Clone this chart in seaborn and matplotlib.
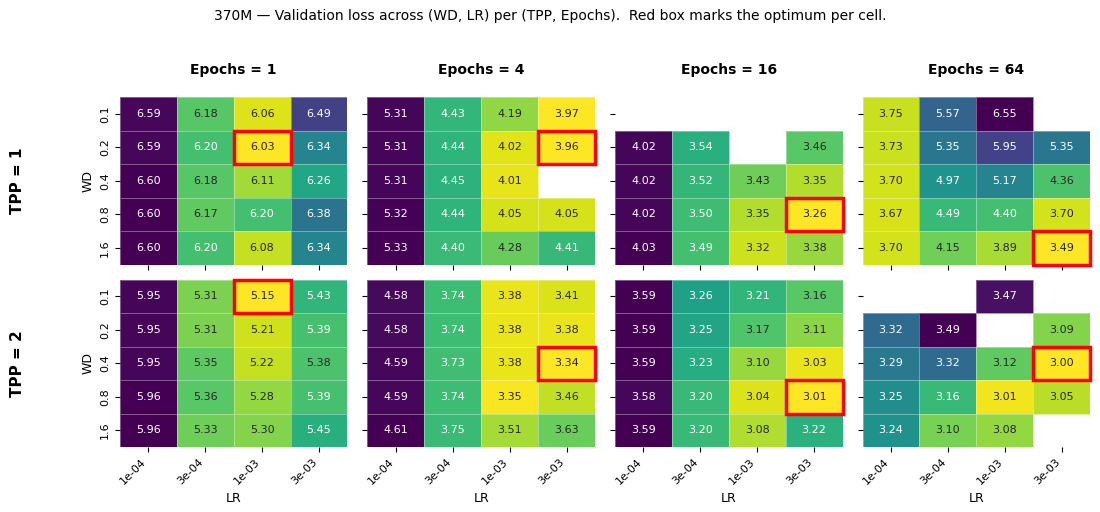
import numpy as np
import pandas as pd
import matplotlib
matplotlib.use("Agg")
import matplotlib.pyplot as plt
import seaborn as sns
from matplotlib.patches import Rectangle

nan = np.nan
wd_labels = ["0.1", "0.2", "0.4", "0.8", "1.6"]
lr_labels = ["1e-04", "3e-04", "1e-03", "3e-03"]
epochs = [1, 4, 16, 64]
tpps = [1, 2]

tpp1_e1 = [[6.59, 6.18, 6.06, 6.49],
           [6.59, 6.20, 6.03, 6.34],
           [6.60, 6.18, 6.11, 6.26],
           [6.60, 6.17, 6.20, 6.38],
           [6.60, 6.20, 6.08, 6.34]]
tpp1_e4 = [[5.31, 4.43, 4.19, 3.97],
           [5.31, 4.44, 4.02, 3.96],
           [5.31, 4.45, 4.01, nan],
           [5.32, 4.44, 4.05, 4.05],
           [5.33, 4.40, 4.28, 4.41]]
tpp1_e16 = [[nan, nan, nan, nan],
            [4.02, 3.54, nan, 3.46],
            [4.02, 3.52, 3.43, 3.35],
            [4.02, 3.50, 3.35, 3.26],
            [4.03, 3.49, 3.32, 3.38]]
tpp1_e64 = [[3.75, 5.57, 6.55, nan],
            [3.73, 5.35, 5.95, 5.35],
            [3.70, 4.97, 5.17, 4.36],
            [3.67, 4.49, 4.40, 3.70],
            [3.70, 4.15, 3.89, 3.49]]
tpp2_e1 = [[5.95, 5.31, 5.15, 5.43],
           [5.95, 5.31, 5.21, 5.39],
           [5.95, 5.35, 5.22, 5.38],
           [5.96, 5.36, 5.28, 5.39],
           [5.96, 5.33, 5.30, 5.45]]
tpp2_e4 = [[4.58, 3.74, 3.38, 3.41],
           [4.58, 3.74, 3.38, 3.38],
           [4.59, 3.73, 3.38, 3.34],
           [4.59, 3.74, 3.35, 3.46],
           [4.61, 3.75, 3.51, 3.63]]
tpp2_e16 = [[3.59, 3.26, 3.21, 3.16],
            [3.59, 3.25, 3.17, 3.11],
            [3.59, 3.23, 3.10, 3.03],
            [3.58, 3.20, 3.04, 3.01],
            [3.59, 3.20, 3.08, 3.22]]
tpp2_e64 = [[nan, nan, 3.47, nan],
            [3.32, 3.49, nan, 3.09],
            [3.29, 3.32, 3.12, 3.00],
            [3.25, 3.16, 3.01, 3.05],
            [3.24, 3.10, 3.08, nan]]

grids = [[tpp1_e1, tpp1_e4, tpp1_e16, tpp1_e64],
         [tpp2_e1, tpp2_e4, tpp2_e16, tpp2_e64]]

plt.rcParams["font.family"] = ["DejaVu Sans"]
fig, axes = plt.subplots(2, 4, figsize=(11, 5.12), dpi=100)
fig.subplots_adjust(left=0.109, right=0.991, top=0.81, bottom=0.127,
                    wspace=0.088, hspace=0.09)

for r, tpp in enumerate(tpps):
    for c, ep in enumerate(epochs):
        ax = axes[r, c]
        df = pd.DataFrame(grids[r][c], index=wd_labels, columns=lr_labels)
        sns.heatmap(df, ax=ax, cmap="viridis_r", annot=True, fmt=".2f",
                    annot_kws={"size": 8}, cbar=False,
                    linewidths=0.5, linecolor=(1, 1, 1, 0.35))
        arr = df.to_numpy()
        i, j = np.unravel_index(np.nanargmin(arr), arr.shape)
        ax.add_patch(Rectangle((j, i), 1, 1, fill=False, edgecolor="red",
                               lw=2.5, zorder=5, clip_on=False))
        ax.tick_params(labelsize=8)
        if r == 0:
            ax.set_title(f"Epochs = {ep}", fontsize=10, fontweight="bold", pad=17)
            ax.set_xticklabels([])
            ax.set_xlabel("")
        else:
            ax.set_xticklabels(lr_labels, rotation=45, ha="right")
            ax.set_xlabel("LR", fontsize=9)
        if c == 0:
            ax.set_ylabel("WD", fontsize=9)
        else:
            ax.set_yticklabels([])
            ax.set_ylabel("")

for r, tpp in enumerate(tpps):
    pos = axes[r, 0].get_position()
    fig.text(0.016, (pos.y0 + pos.y1) / 2, f"TPP = {tpp}", rotation=90,
             fontsize=11, fontweight="bold", ha="center", va="center")

fig.suptitle("370M — Validation loss across (WD, LR) per (TPP, Epochs).  Red box marks the optimum per cell.",
             fontsize=10, y=0.982)
fig.savefig("out.png", dpi=100)
